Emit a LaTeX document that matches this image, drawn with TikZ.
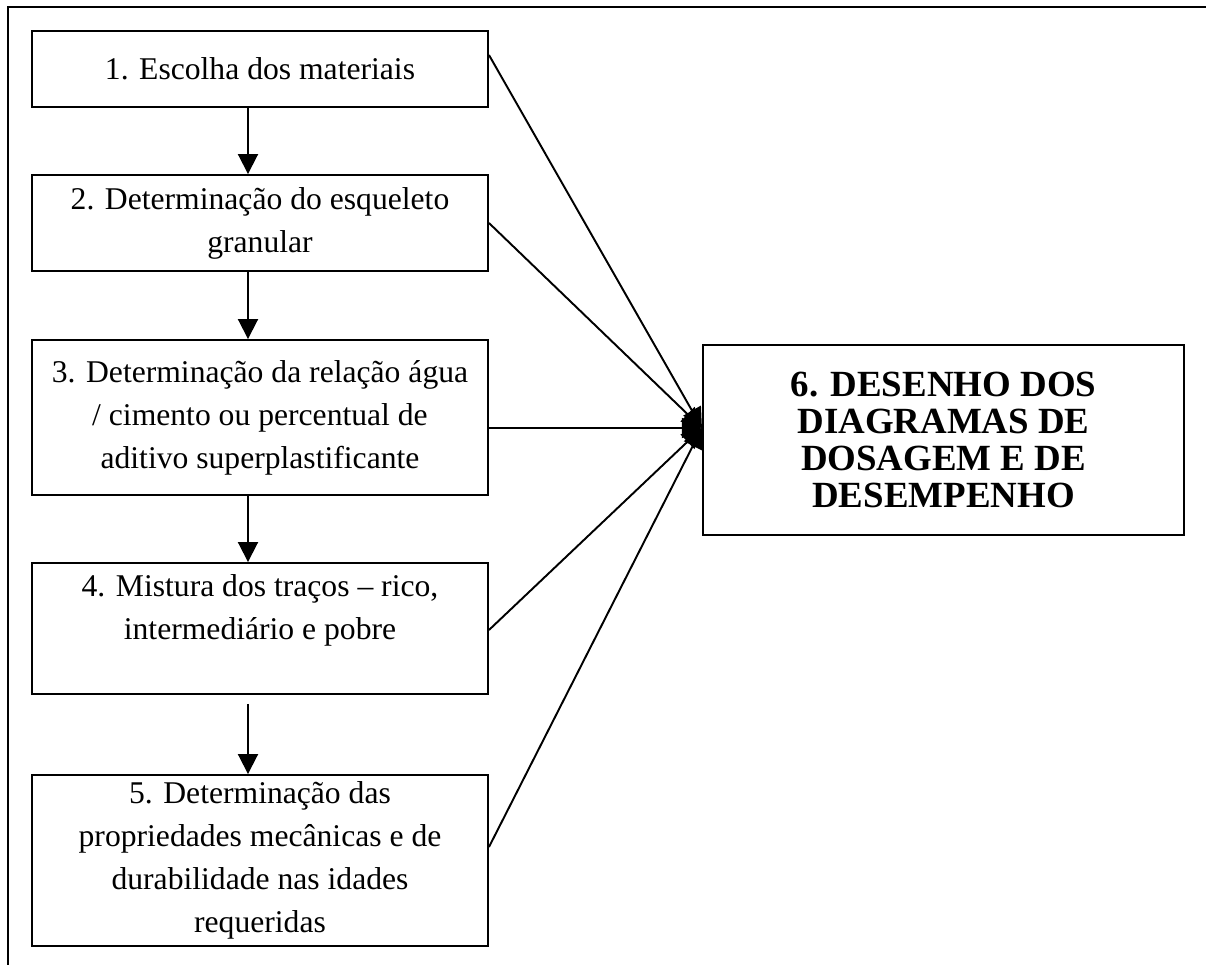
\documentclass[tikz,border=0pt]{standalone}
\usepackage{fontspec}
\setmainfont{Liberation Serif}
\usetikzlibrary{arrows.meta, positioning}
\tikzset{%
>={Triangle[width=4mm,length=4mm]},
  % Specifications for style of boxes:
            stepbox/.style = {rectangle, draw=black, line width=1.1pt,
                            minimum width=9.12cm, align=center,
                            font=\fontsize{18}{24.5}\selectfont},
            resultbox/.style = {rectangle, draw=black, line width=1.2pt,
                            minimum width=9.62cm, minimum height=3.8cm, align=center,
                            font=\fontsize{21}{21}\selectfont\bfseries},
            link/.style = {->, line width=1.1pt}
}
\begin{document}
\begin{tikzpicture}[every node/.style={inner sep=0pt}]
                \useasboundingbox (0,0) rectangle (24.12,-19.3);
                % frame
                \draw[line width=1.1pt] (24.12,-0.14) -- (0.16,-0.14) -- (0.16,-19.3);

                \node[stepbox, minimum height=1.52cm] (s1) at (5.2,-1.38) {1. Escolha dos materiais};
                \node[stepbox, minimum height=1.92cm] (s2) at (5.2,-4.46) {2. Determinação do esqueleto\\granular};
                \node[stepbox, minimum height=3.1cm] (s3) at (5.2,-8.35) {3. Determinação da relação água\\/ cimento ou percentual de\\aditivo superplastificante};
                \node[stepbox, minimum height=2.62cm] (s4) at (5.2,-12.57) {4. Mistura dos traços -- rico,\\intermediário e pobre\\\mbox{}};
                \node[stepbox, minimum height=3.42cm] (s5) at (5.2,-17.21) {5. Determinação das\\propriedades mecânicas e de\\durabilidade nas idades\\requeridas};
                \node[resultbox] (r6) at (18.87,-8.8) {6. DESENHO DOS\\DIAGRAMAS DE\\DOSAGEM E DE\\DESEMPENHO};
                \coordinate (tip) at (r6.west |- 0,-8.56);

                \draw[link] ([xshift=-0.24cm]s1.south) -- ([xshift=-0.24cm]s2.north);
                \draw[link] ([xshift=-0.24cm]s2.south) -- ([xshift=-0.24cm]s3.north);
                \draw[link] ([xshift=-0.24cm]s3.south) -- ([xshift=-0.24cm]s4.north);
                \draw[link] ([xshift=-0.24cm,yshift=-0.18cm]s4.south) -- ([xshift=-0.24cm]s5.north);

                \draw[link] (s1.east |- 0,-1.1) -- (tip);
                \draw[link] (s2.east) -- (tip);
                \draw[link] (s3.east |- 0,-8.56) -- (tip);
                \draw[link] (s4.east |- 0,-12.6) -- (tip);
                \draw[link] (s5.east |- 0,-16.94) -- (tip);

            \end{tikzpicture}
\end{document}
